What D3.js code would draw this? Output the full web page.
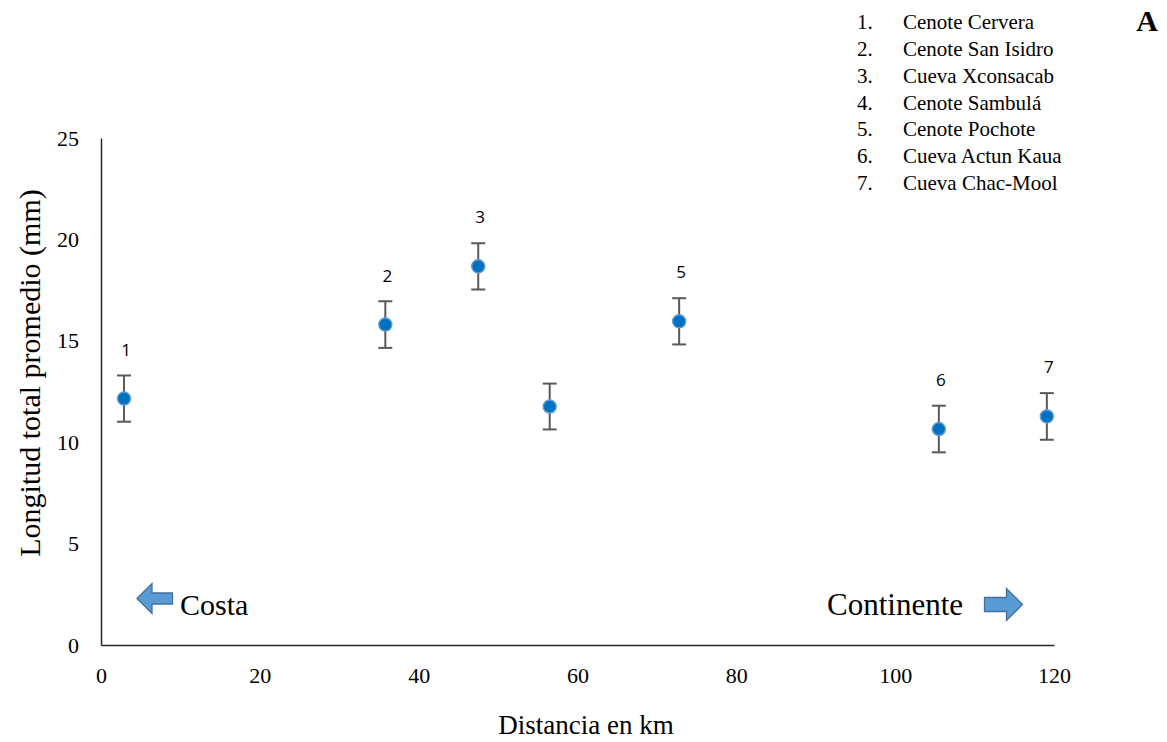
<!DOCTYPE html>
<html>
<head>
<meta charset="utf-8">
<script src="https://cdn.jsdelivr.net/npm/d3@7"></script>
<style>
  html, body { margin: 0; padding: 0; background: #fff; }
  svg { display: block; }
</style>
</head>
<body>
<svg id="chart" width="1167" height="742"></svg>
<script>
// Sites: distance from the coast (km), mean total length (mm) and its error
const siteNumbers = ["1", "2", "3", "4", "5", "6", "7"];
const siteNames = ["Cenote Cervera", "Cenote San Isidro", "Cueva Xconsacab", "Cenote Sambulá",
                   "Cenote Pochote", "Cueva Actun Kaua", "Cueva Chac-Mool"];
const distanceKm = [2.9, 35.8, 47.5, 56.5, 72.8, 105.5, 119.1];
const meanLength = [12.15, 15.8, 18.67, 11.76, 15.96, 10.65, 11.27];
const lengthError = [1.14, 1.15, 1.14, 1.13, 1.14, 1.15, 1.15];
const pointLabels = ["1", "2", "3", "", "5", "6", "7"];
const xTicks = [0, 20, 40, 60, 80, 100, 120];
const yTicks = [0, 5, 10, 15, 20, 25];

const svg = d3.select("#chart");
const serif = "'Liberation Serif', 'DejaVu Serif', serif";
const sans = "'Open Sans', 'Liberation Sans', sans-serif";

const x = d3.scaleLinear().domain([0, 120]).range([101, 1054]);
const y = d3.scaleLinear().domain([0, 25]).range([645, 138]);

// Axes: plain lines, labels only, no tick marks
const xAxis = svg.append("g")
  .attr("transform", `translate(0,${y(0)})`)
  .call(d3.axisBottom(x).tickValues(xTicks).tickSize(0).tickPadding(22).tickFormat(d3.format("d")));
const yAxis = svg.append("g")
  .attr("transform", `translate(${x(0)},0)`)
  .call(d3.axisLeft(y).tickValues(yTicks).tickSize(0).tickPadding(22).tickFormat(d3.format("d")));

[xAxis, yAxis].forEach(g => {
  g.select(".domain").attr("stroke", "#262626").attr("stroke-width", 1.5);
  g.selectAll("text").attr("font-family", serif).attr("font-size", 22).attr("fill", "#000");
});

// Axis titles
svg.append("text")
  .attr("x", 586).attr("y", 734)
  .attr("text-anchor", "middle")
  .attr("font-family", serif).attr("font-size", 27)
  .text("Distancia en km");

svg.append("text")
  .attr("transform", "translate(40,373) rotate(-90)")
  .attr("text-anchor", "middle")
  .attr("font-family", serif).attr("font-size", 30)
  .text("Longitud total promedio (mm)");

// Error bars
const sites = distanceKm.map((d, i) => ({
  dist: d, mean: meanLength[i], err: lengthError[i], label: pointLabels[i]
}));

const cap = 7;
const bars = svg.append("g").attr("stroke", "#595959").attr("stroke-width", 2).attr("fill", "none");
sites.forEach(s => {
  const cx = x(s.dist), y1 = y(s.mean + s.err), y2 = y(s.mean - s.err);
  bars.append("line").attr("x1", cx).attr("x2", cx).attr("y1", y1).attr("y2", y2);
  bars.append("line").attr("x1", cx - cap).attr("x2", cx + cap).attr("y1", y1).attr("y2", y1);
  bars.append("line").attr("x1", cx - cap).attr("x2", cx + cap).attr("y1", y2).attr("y2", y2);
});

// Markers
svg.append("g").selectAll("circle")
  .data(sites)
  .join("circle")
  .attr("cx", d => x(d.dist))
  .attr("cy", d => y(d.mean))
  .attr("r", 6.5)
  .attr("fill", "#0070C0")
  .attr("stroke", "#5B9BD5")
  .attr("stroke-width", 1.5);

// Site numbers above each point
svg.append("g").selectAll("text")
  .data(sites.filter(d => d.label !== ""))
  .join("text")
  .attr("x", d => x(d.dist) + 2)
  .attr("y", d => y(d.mean) - 43)
  .attr("text-anchor", "middle")
  .attr("font-family", sans).attr("font-size", 17)
  .attr("fill", "#000")
  .text(d => d.label);

// Direction arrows
const arrowFill = "#5B9BD5", arrowStroke = "#41719C";

function blockArrow(tipX, baseX, tailX, cy, headHalf, shaftHalf) {
  const p = d3.path();
  p.moveTo(tipX, cy);
  p.lineTo(baseX, cy - headHalf);
  p.lineTo(baseX, cy - shaftHalf);
  p.lineTo(tailX, cy - shaftHalf);
  p.lineTo(tailX, cy + shaftHalf);
  p.lineTo(baseX, cy + shaftHalf);
  p.lineTo(baseX, cy + headHalf);
  p.closePath();
  return p.toString();
}

svg.append("path")
  .attr("d", blockArrow(137, 152, 172.5, 598.5, 15, 5.5))
  .attr("fill", arrowFill).attr("stroke", arrowStroke).attr("stroke-width", 1.3);

svg.append("path")
  .attr("d", blockArrow(1022.5, 1006.5, 984.5, 604.5, 16, 7))
  .attr("fill", arrowFill).attr("stroke", arrowStroke).attr("stroke-width", 1.3);

svg.append("text")
  .attr("x", 180).attr("y", 615)
  .attr("font-family", serif).attr("font-size", 30)
  .text("Costa");

svg.append("text")
  .attr("x", 827).attr("y", 615)
  .attr("font-family", serif).attr("font-size", 31)
  .text("Continente");

// Site list in the upper right
const legend = svg.append("g").attr("font-family", serif).attr("font-size", 21).attr("fill", "#000");
siteNames.forEach((name, i) => {
  const by = 29 + i * 26.85;
  legend.append("text").attr("x", 857).attr("y", by).text(siteNumbers[i] + ".");
  legend.append("text").attr("x", 903).attr("y", by).text(name);
});

// Panel letter
svg.append("text")
  .attr("x", 1147).attr("y", 31)
  .attr("text-anchor", "middle")
  .attr("font-family", serif).attr("font-size", 30).attr("font-weight", "bold")
  .text("A");
</script>
</body>
</html>
